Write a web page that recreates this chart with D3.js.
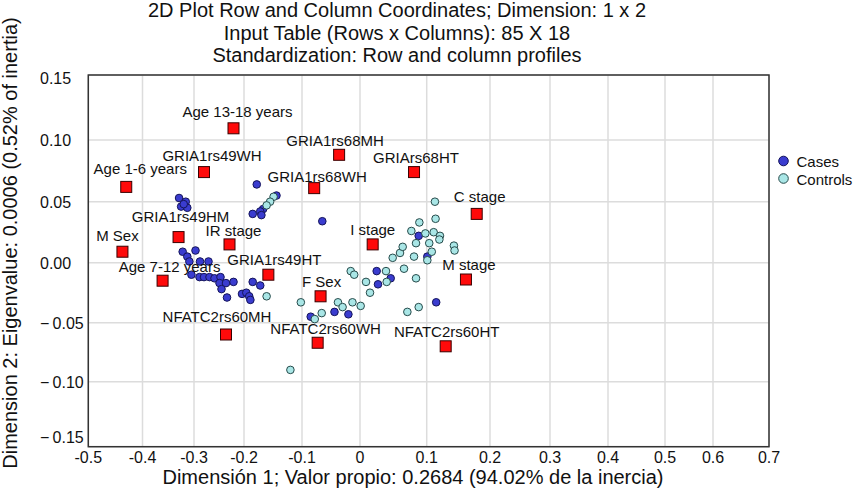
<!DOCTYPE html>
<html>
<head>
<meta charset="utf-8">
<script src="https://cdn.jsdelivr.net/npm/d3@7"></script>
<style>
  body { margin: 0; background: #fff; }
  text { font-family: "Liberation Sans", Arial, sans-serif; fill: #111; }
</style>
</head>
<body>
<svg id="chart" width="858" height="491"></svg>
<script>
// chart text
const titleLines = [
  '2D Plot Row and Column Coordinates; Dimension: 1 x 2',
  'Input Table (Rows x Columns): 85 X 18',
  'Standardization: Row and column profiles'
];
const xTitle = 'Dimensión 1; Valor propio: 0.2684 (94.02% de la inercia)';
const yTitle = 'Dimension 2: Eigenvalue: 0.0006 (0.52% of inertia)';
const legendLabels = ['Cases', 'Controls'];

// axes
const xTicks = [-0.5, -0.4, -0.3, -0.2, -0.1, 0, 0.1, 0.2, 0.3, 0.4, 0.5, 0.6, 0.7];
const yTicks = [0.15, 0.10, 0.05, 0.00, -0.05, -0.10, -0.15];

// column points (red squares)
const columnLabels = ['Age 13-18 years', 'GRIA1rs49WH', 'Age 1-6 years', 'GRIA1rs68WH', 'GRIA1rs49HM',
  'M Sex', 'IR stage', 'Age 7-12 years', 'GRIA1rs49HT', 'F Sex', 'NFATC2rs60MH', 'NFATC2rs60WH',
  'GRIA1rs68MH', 'GRIArs68HT', 'C stage', 'I stage', 'M stage', 'NFATC2rs60HT'];
const columnDim1 = [-0.221, -0.280, -0.430, -0.079, -0.330, -0.437, -0.229, -0.361, -0.158, -0.068,
  -0.236, -0.073, -0.036, 0.081, 0.179, 0.019, 0.162, 0.130];
const columnDim2 = [0.109, 0.074, 0.062, 0.061, 0.021, 0.009, 0.015, -0.015, -0.010, -0.028,
  -0.060, -0.067, 0.088, 0.074, 0.040, 0.015, -0.014, -0.070];

// row points: cases
const casesDim1 = [-0.329, -0.316, -0.325, -0.313, -0.320, -0.178, -0.144, -0.167, -0.172, -0.185,
  -0.170, -0.065, -0.322, -0.297, -0.313, -0.309, -0.288, -0.271, -0.305, -0.289,
  -0.280, -0.269, -0.259, -0.247, -0.249, -0.236, -0.221, -0.245, -0.234, -0.185,
  -0.172, -0.204, -0.196, -0.191, -0.189, -0.085, -0.044, -0.020, 0.025, 0.046,
  0.027, 0.088, 0.101, 0.115];
const casesDim2 = [0.053, 0.050, 0.046, 0.045, 0.048, 0.064, 0.055, 0.044, 0.042, 0.040,
  0.039, 0.034, 0.009, 0.010, 0.005, 0.001, 0.001, 0.001, -0.010, -0.012,
  -0.012, -0.012, -0.013, -0.012, -0.017, -0.017, -0.016, -0.022, -0.029, -0.016,
  -0.019, -0.026, -0.025, -0.028, -0.031, -0.045, -0.041, -0.043, -0.007, -0.013,
  -0.018, 0.022, 0.005, -0.033];

// row points: controls
const controlsDim1 = [-0.149, -0.155, -0.161, -0.161, -0.102, -0.078, -0.066, -0.038, -0.030, -0.013,
  0.001, -0.120, -0.016, -0.010, 0.009, 0.015, 0.039, 0.040, 0.066, 0.084,
  0.071, 0.088, 0.049, 0.060, 0.064, 0.081, 0.101, 0.108, 0.084, 0.104,
  0.077, 0.098, 0.111, 0.121, 0.120, 0.089, 0.114, 0.113, 0.143, 0.144];
const controlsDim2 = [0.054, 0.050, 0.047, -0.028, -0.033, -0.047, -0.042, -0.033, -0.037, -0.033,
  -0.036, -0.090, -0.007, -0.010, -0.016, -0.025, -0.007, -0.016, -0.005, -0.013,
  -0.041, -0.037, 0.004, 0.008, 0.013, 0.005, 0.002, 0.009, 0.016, 0.016,
  0.026, 0.024, 0.025, 0.022, 0.019, 0.033, 0.036, 0.050, 0.014, 0.010];

const casesColor = '#3a3ccf', casesStroke = '#14145a';
const controlsColor = '#a9e6e6', controlsStroke = '#264a4a';

// layout
const frame = { left: 88.3, right: 769, top: 75, bottom: 446.7 };
// the grid in the picture is not evenly spaced, so the scales are piecewise
const xGridPx = [88.3, 142.5, 194, 244, 302, 360, 426.7, 490, 550, 608, 665, 713, 769];
const yGridPx = [75, 140, 201.7, 262.7, 322.7, 381.7, 446.7];
// label placement nudges [dx, dy] from the square centre, in label order
const labelNudge = [[4, -11], [8, -11], [14, -13], [3, -6.5], [2, -15], [-5, -11], [4, -8],
  [7, -8.5], [6, -9.5], [1, -9.5], [-9, -13], [8, -8.5], [-4, -9], [2, -9], [3, -11.5],
  [0, -9.8], [3, -9.8], [1, -9.8]];

const x = d3.scaleLinear().domain(xTicks).range(xGridPx);
const y = d3.scaleLinear().domain(yTicks).range(yGridPx);

const svg = d3.select('#chart');

// grid
const grid = svg.append('g');
grid.selectAll('line.vx').data(xTicks).join('line')
  .attr('x1', d => x(d)).attr('x2', d => x(d))
  .attr('y1', frame.top).attr('y2', frame.bottom)
  .attr('stroke', '#dcdcdc').attr('stroke-width', 1.5);
grid.selectAll('line.hy').data(yTicks).join('line')
  .attr('x1', frame.left).attr('x2', frame.right)
  .attr('y1', d => y(d)).attr('y2', d => y(d))
  .attr('stroke', '#dcdcdc').attr('stroke-width', 1.5);

svg.append('rect')
  .attr('x', frame.left).attr('y', frame.top)
  .attr('width', frame.right - frame.left).attr('height', frame.bottom - frame.top)
  .attr('fill', 'none').attr('stroke', '#333').attr('stroke-width', 1.5);

// tick labels
svg.append('g').selectAll('text').data(xTicks).join('text')
  .attr('x', d => x(d)).attr('y', 463)
  .attr('text-anchor', 'middle').attr('font-size', 16)
  .text(d => d === 0 ? '0' : String(d));
svg.append('g').selectAll('text').data(yTicks).join('text')
  .attr('x', 40).attr('y', d => Math.max(77.7, Math.min(y(d), 436.7)) + 6)
  .attr('font-size', 16)
  .text(d => d3.format('.2f')(d).replace('−', '−\u2009'));

// titles
svg.append('g').selectAll('text').data(titleLines).join('text')
  .attr('x', 397).attr('y', (d, i) => 16.8 + i * 22.8)
  .attr('text-anchor', 'middle').attr('font-size', 20)
  .text(d => d);
svg.append('text').attr('x', 413).attr('y', 484)
  .attr('text-anchor', 'middle').attr('font-size', 20).text(xTitle);
svg.append('text')
  .attr('transform', 'translate(16.5,243) rotate(-90)')
  .attr('text-anchor', 'middle').attr('font-size', 20).text(yTitle);

// rows
const cases = casesDim1.map((d, i) => ({ x: d, y: casesDim2[i] }));
const controls = controlsDim1.map((d, i) => ({ x: d, y: controlsDim2[i] }));
svg.append('g').selectAll('circle').data(cases).join('circle')
  .attr('cx', d => x(d.x)).attr('cy', d => y(d.y)).attr('r', 3.8)
  .attr('fill', casesColor).attr('stroke', casesStroke).attr('stroke-width', 1);
svg.append('g').selectAll('circle').data(controls).join('circle')
  .attr('cx', d => x(d.x)).attr('cy', d => y(d.y)).attr('r', 3.8)
  .attr('fill', controlsColor).attr('stroke', controlsStroke).attr('stroke-width', 1);

// columns
const columns = columnLabels.map((d, i) => ({ label: d, x: columnDim1[i], y: columnDim2[i], nudge: labelNudge[i] }));
svg.append('g').selectAll('rect').data(columns).join('rect')
  .attr('x', d => x(d.x) - 5.5).attr('y', d => y(d.y) - 5.5)
  .attr('width', 11).attr('height', 11)
  .attr('fill', '#ff0a0a').attr('stroke', '#3a0000').attr('stroke-width', 1);
svg.append('g').selectAll('text').data(columns).join('text')
  .attr('x', d => x(d.x) + d.nudge[0]).attr('y', d => y(d.y) + d.nudge[1])
  .attr('text-anchor', 'middle').attr('font-size', 15)
  .text(d => d.label);

// legend
const legend = svg.append('g').selectAll('g').data(legendLabels).join('g')
  .attr('transform', (d, i) => `translate(783.5, ${161 + i * 17.5})`);
legend.append('circle').attr('r', 4.8)
  .attr('fill', (d, i) => i ? controlsColor : casesColor)
  .attr('stroke', (d, i) => i ? controlsStroke : casesStroke);
legend.append('text').attr('x', 13).attr('y', 6).attr('font-size', 15).text(d => d);
</script>
</body>
</html>
